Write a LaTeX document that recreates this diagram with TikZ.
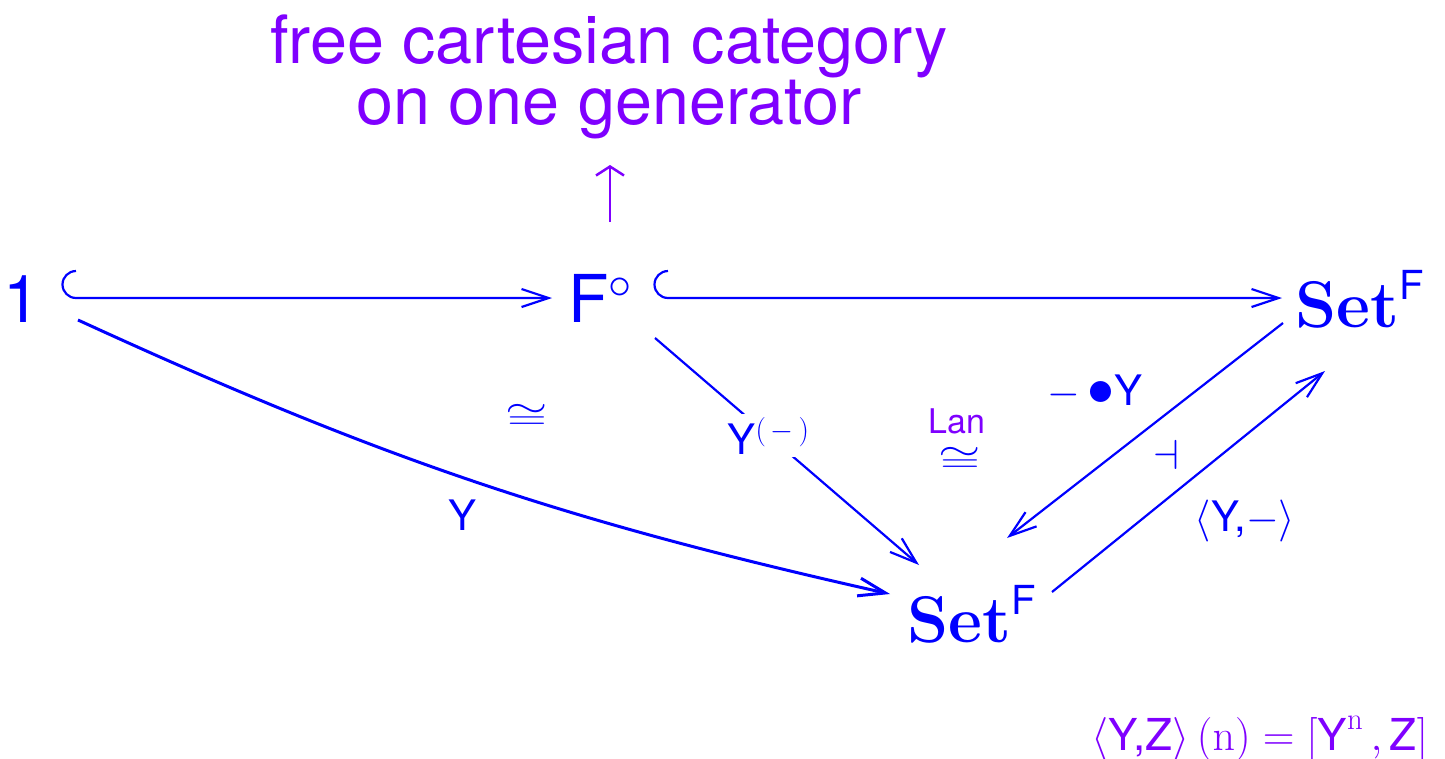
\RequirePackage{fix-cm}
\documentclass[tikz,border=0pt]{standalone}
\usepackage[no-math]{fontspec}
\setmainfont{TeX Gyre Heros}
\usetikzlibrary{arrows.meta,calc}
\definecolor{cdblue}{RGB}{0,0,255}
\definecolor{cdpurple}{RGB}{127,0,255}
\newcommand{\cdBig}{\fontsize{66}{72}\selectfont}
\newcommand{\cdTitle}{\fontsize{66.5}{61}\selectfont}
\newcommand{\cdLbl}{\fontsize{42}{46}\selectfont}
\newcommand{\cdForm}{\fontsize{44}{48}\selectfont}
\newcommand{\cdLan}{\fontsize{34}{38}\selectfont}
\newcommand{\cdSupF}{\mbox{\fontsize{40}{40}\selectfont F}}
\newcommand{\cdDot}{\mbox{\fontsize{54}{54}\selectfont$\bullet$}}
\newcommand{\cdIsoSym}{\scalebox{1.3}[0.85]{$\cong$}}
\begin{document}
\begin{tikzpicture}[x=1pt,y=-1pt,
  obj/.style={anchor=base,inner sep=0pt,text=cdblue,font=\cdBig},
  lbl/.style={inner sep=0pt,text=cdblue,font=\cdLbl},
  iso/.style={inner sep=0pt,text=cdblue,font=\cdLbl},
  cdtip/.style={-{Straight Barb[length=27pt,width=18pt]}},
  cdarrow/.style={draw=cdblue,line width=2.2pt,cdtip},
  uparrow/.style={draw=cdpurple,line width=2.5pt,-{Straight Barb[length=9pt,width=28pt]}}
]
\useasboundingbox (0,0) rectangle (1445,758);
\fill[white] (0,0) rectangle (1445,758);

% objects
\node[obj] (one) at (22,322) {1};
\node[obj] (F) at (600,322) {F$^\circ$};
\node[obj] (S1) at (1360,327) {$\mathbf{Set}^{\cdSupF}$};
\node[obj] (S2) at (972,642) {$\mathbf{Set}^{\cdSupF}$};
\node[inner sep=0pt,text=cdpurple,font=\cdTitle,align=center] (title) at (609,77)
  {free cartesian category\\on one generator};

% up arrow
\draw[uparrow] ($(F.base)+(10,-100)$) -- ($(F.base)+(10,-157)$);

% hook arrows
\draw[cdarrow] ($(one.base)+(54,-51)$) arc[start angle=90,end angle=270,radius=13.5pt]
  -- ($(F.base)+(-48,-24)$);
\draw[cdarrow] ($(F.base)+(68,-51)$) arc[start angle=90,end angle=270,radius=13.5pt]
  -- ($(S1.base)+(-78,-29)$);

% curved arrow 1 -> Set^F
\draw[cdarrow,line width=3pt] ($(one.base)+(56,-2)$) to[bend right=6] ($(S2.base)+(-82,-48)$);
\node[lbl] (ylbl) at (463,515) {Y};

% F -> Set^F
\draw[cdarrow] ($(F.base)+(55,16)$) -- ($(S2.base)+(-53,-77)$)
  node[pos=0.43,lbl,fill=white,inner sep=3pt] (yexp) {Y$^{(\,-\,)}$};

% adjunction
\draw[cdarrow] ($(S1.base)+(-77,-4)$) -- ($(S2.base)+(35,-104)$);
\draw[cdarrow] ($(S2.base)+(80,-50)$) -- ($(S1.base)+(-35,44)$);
\node[lbl] (dotY) at (1095,392) {$-\,$\cdDot Y};
\node[lbl] (adj) at (1166,455) {$\dashv$};
\node[lbl] (hom) at (1245,521) {$\langle$Y,$-\rangle$};

% isomorphisms
\node[iso] (iso1) at (527,417) {\cdIsoSym};
\node[inner sep=0pt,text=cdpurple,font=\cdLan] (lan) at (957,421) {Lan};
\node[iso] (iso2) at (960,460) {\cdIsoSym};

% formula
\node[inner sep=0pt,text=cdpurple,font=\cdForm,anchor=base east] (formula) at (1428,750)
  {$\langle\mbox{Y,Z}\rangle\,(\mathrm{n})=[\mbox{Y}^{\mathrm{n}}\,,\mbox{Z}]$};
\end{tikzpicture}
\end{document}
